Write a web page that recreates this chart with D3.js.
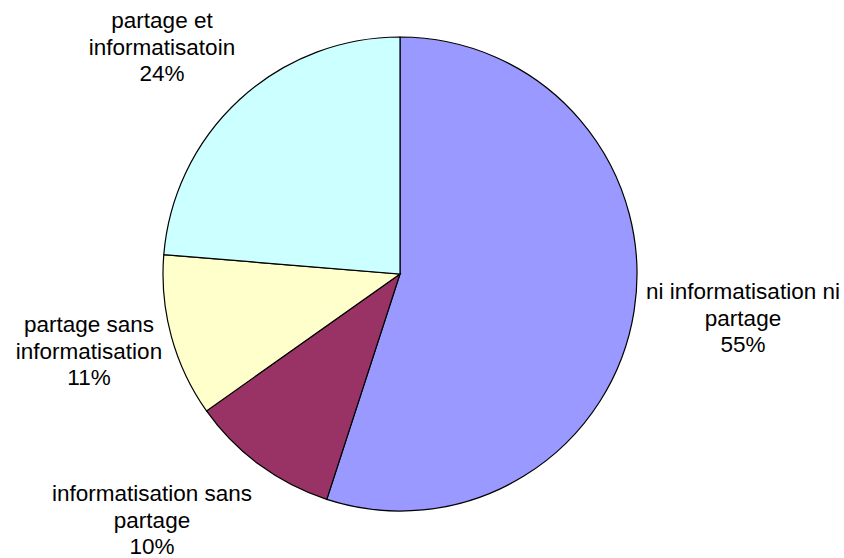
<!DOCTYPE html>
<html>
<head>
<meta charset="utf-8">
<script src="https://cdn.jsdelivr.net/npm/d3@7"></script>
<style>
  body { margin: 0; background: #fff; }
  text { font-family: "Liberation Sans", Arial, sans-serif; font-size: 22.5px; fill: #000; }
</style>
</head>
<body>
<svg></svg>
<script>
const width = 844;
const height = 558;

// slices, clockwise from 12 o'clock
const categories = ['ni informatisation ni partage', 'informatisation sans partage', 'partage sans informatisation', 'partage et informatisatoin'];
const values = [55.0, 10.2, 11.1, 23.7];
const percentLabels = ['55%', '10%', '11%', '24%'];
const labelLines = [
  ['ni informatisation ni', 'partage'],
  ['informatisation sans', 'partage'],
  ['partage sans', 'informatisation'],
  ['partage et', 'informatisatoin']
];
const colors = ['#9999ff', '#993366', '#ffffcc', '#ccffff'];

const cx = 400, cy = 274, radius = 237;

// where each label block sits (centre x, first baseline)
const labelPos = [[743, 299], [152, 501], [89, 332], [162, 28]];
const lineH = 26.5;

const svg = d3.select('svg')
  .attr('width', width)
  .attr('height', height)

const pie = d3.pie().sort(null).value(d => d)
const arc = d3.arc().innerRadius(0).outerRadius(radius)

const g = svg.append('g')
  .attr('transform', `translate(${cx},${cy})`)

g.selectAll('path')
  .data(pie(values))
  .join('path')
    .attr('d', arc)
    .attr('fill', (d, i) => colors[i])
    .attr('stroke', '#000')
    .attr('stroke-width', 1.2)

const labels = svg.selectAll('text.lbl')
  .data(categories)
  .join('text')
    .attr('class', 'lbl')
    .attr('text-anchor', 'middle')
    .attr('x', (d, i) => labelPos[i][0])
    .attr('y', (d, i) => labelPos[i][1])

labels.each(function(d, i) {
  const t = d3.select(this)
  const lines = labelLines[i].concat([percentLabels[i]])
  lines.forEach((l, j) => {
    t.append('tspan')
      .attr('x', labelPos[i][0])
      .attr('y', labelPos[i][1] + j * lineH)
      .text(l)
  })
})
</script>
</body>
</html>
